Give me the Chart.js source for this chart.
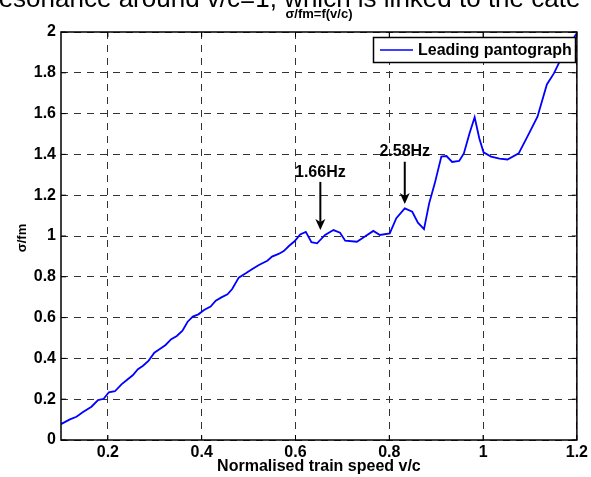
<!DOCTYPE html>
<html>
<head>
<meta charset="utf-8">
<script src="https://cdn.jsdelivr.net/npm/chart.js@4.4.1/dist/chart.umd.min.js"></script>
<style>
body { margin: 0; background: #fff; }
#wrap { width: 591px; height: 477px; }
</style>
</head>
<body>
<div id="wrap"><canvas id="grafico" width="591" height="477"></canvas></div>
<script>
// valores (velocidade normalizada v/c e razão sigma/fm)
const speed = [0.100, 0.119, 0.133, 0.147, 0.165, 0.179, 0.191, 0.202, 0.215, 0.229,
  0.243, 0.253, 0.264, 0.275, 0.287, 0.299, 0.310, 0.323, 0.335, 0.347,
  0.359, 0.370, 0.381, 0.393, 0.405, 0.419, 0.430, 0.442, 0.455, 0.465,
  0.479, 0.494, 0.508, 0.522, 0.540, 0.550, 0.564, 0.575, 0.586, 0.598,
  0.610, 0.622, 0.634, 0.646, 0.663, 0.681, 0.695, 0.706, 0.731, 0.748,
  0.766, 0.780, 0.801, 0.815, 0.833, 0.849, 0.861, 0.874, 0.885, 0.897,
  0.911, 0.922, 0.934, 0.949, 0.959, 0.971, 0.982, 0.992, 1.001, 1.017,
  1.035, 1.052, 1.076, 1.098, 1.116, 1.136, 1.151, 1.165, 1.194, 1.200];
const ratio = [0.078, 0.101, 0.114, 0.137, 0.163, 0.196, 0.202, 0.234, 0.239, 0.273,
  0.299, 0.317, 0.347, 0.364, 0.389, 0.428, 0.445, 0.466, 0.494, 0.510,
  0.536, 0.580, 0.605, 0.616, 0.637, 0.654, 0.683, 0.699, 0.714, 0.740,
  0.796, 0.817, 0.838, 0.858, 0.879, 0.899, 0.912, 0.926, 0.951, 0.974,
  1.008, 1.020, 0.970, 0.964, 1.005, 1.029, 1.016, 0.977, 0.972, 0.997,
  1.025, 1.005, 1.013, 1.087, 1.135, 1.119, 1.065, 1.034, 1.160, 1.258,
  1.389, 1.392, 1.363, 1.368, 1.405, 1.503, 1.582, 1.478, 1.410, 1.389,
  1.379, 1.375, 1.405, 1.503, 1.585, 1.743, 1.797, 1.863, 1.973, 1.995];

const xTicks = [0.2, 0.4, 0.6, 0.8, 1, 1.2];
const xTickLabels = ['0.2', '0.4', '0.6', '0.8', '1', '1.2'];
const yTicks = [0, 0.2, 0.4, 0.6, 0.8, 1, 1.2, 1.4, 1.6, 1.8, 2];
const yTickLabels = ['0', '0.2', '0.4', '0.6', '0.8', '1', '1.2', '1.4', '1.6', '1.8', '2'];

// setas com as frequências
const peakLabels = ['1.66Hz', '2.58Hz'];
const peakX = [0.653, 0.833];
const peakTextY = [1.31, 1.413];
const peakArrowTop = [1.265, 1.364];
const peakArrowTip = [1.03, 1.157];

const seriesName = 'Leading pantograph';
const chartTitle = 'σ/fm=f(v/c)';
const xTitle = 'Normalised train speed v/c';
const yTitle = 'σ/fm';
const pageText = 'resonance around v/c=1, which is linked to the cate';

const FONT = "'Liberation Sans', Arial, sans-serif";

const extras = {
    id: 'extras',
    afterDatasetsDraw(chart) {
        const c = chart.ctx;
        const a = chart.chartArea;
        const xs = chart.scales.x;
        const ys = chart.scales.y;
        c.save();

        // caixa dos eixos
        c.strokeStyle = '#000';
        c.lineWidth = 1.5;
        c.setLineDash([]);
        c.strokeRect(a.left, a.top, a.right - a.left, a.bottom - a.top);

        // ticks para dentro
        c.lineWidth = 1;
        c.beginPath();
        xTicks.forEach(v => {
            const px = xs.getPixelForValue(v);
            c.moveTo(px, a.bottom); c.lineTo(px, a.bottom - 5);
            c.moveTo(px, a.top); c.lineTo(px, a.top + 5);
        });
        yTicks.forEach(v => {
            const py = ys.getPixelForValue(v);
            c.moveTo(a.left, py); c.lineTo(a.left + 5, py);
            c.moveTo(a.right, py); c.lineTo(a.right - 5, py);
        });
        c.stroke();

        // anotações
        c.fillStyle = '#000';
        c.strokeStyle = '#000';
        c.font = 'bold 16px ' + FONT;
        c.textAlign = 'center';
        c.textBaseline = 'middle';
        for (let i = 0; i < peakLabels.length; i++) {
            const px = xs.getPixelForValue(peakX[i]);
            c.fillText(peakLabels[i], px, ys.getPixelForValue(peakTextY[i]));
            const y0 = ys.getPixelForValue(peakArrowTop[i]);
            const y1 = ys.getPixelForValue(peakArrowTip[i]);
            c.lineWidth = 2;
            c.beginPath();
            c.moveTo(px, y0); c.lineTo(px, y1 - 8);
            c.stroke();
            c.beginPath();
            c.moveTo(px, y1);
            c.lineTo(px - 5, y1 - 11);
            c.lineTo(px, y1 - 8);
            c.lineTo(px + 5, y1 - 11);
            c.closePath();
            c.fill();
        }

        // legenda
        const lx = 373, ly = 37, lw = 202, lh = 25;
        c.fillStyle = '#fff';
        c.fillRect(lx, ly, lw, lh);
        c.strokeStyle = '#000';
        c.lineWidth = 1.5;
        c.strokeRect(lx + 0.5, ly + 0.5, lw, lh);
        c.strokeStyle = '#0000ff';
        c.lineWidth = 1.5;
        c.beginPath();
        c.moveTo(lx + 7, ly + lh / 2 + 0.5); c.lineTo(lx + 40, ly + lh / 2 + 0.5);
        c.stroke();
        c.fillStyle = '#000';
        c.textAlign = 'left';
        c.fillText(seriesName, lx + 45, ly + lh / 2 + 1);

        // títulos
        c.textAlign = 'center';
        c.font = 'bold 16px ' + FONT;
        c.fillText(xTitle, (a.left + a.right) / 2, 467);
        c.font = 'bold 13px ' + FONT;
        c.fillText(chartTitle, (a.left + a.right) / 2, 14);
        c.save();
        c.translate(22, 238);
        c.rotate(-Math.PI / 2);
        c.fillText(yTitle, 0, 0);
        c.restore();

        // texto da página cortado no topo
        c.font = '26px ' + FONT;
        c.textAlign = 'left';
        c.textBaseline = 'alphabetic';
        c.fillText(pageText, -10, 7);

        c.restore();
    }
};

const ctx = document.getElementById('grafico').getContext('2d');
const tickFont = { family: FONT, size: 16, weight: 'bold' };

const grafico = new Chart(ctx, {
    type: 'line',
    data: {
        datasets: [{
            label: seriesName,
            data: speed.map((v, i) => ({ x: v, y: ratio[i] })),
            borderColor: '#0000ff',
            borderWidth: 1.8,
            pointRadius: 0,
            tension: 0,
            fill: false
        }]
    },
    options: {
        responsive: false,
        animation: false,
        devicePixelRatio: 1,
        layout: { padding: { top: 32, right: 11, left: 0, bottom: 0 } },
        plugins: {
            legend: { display: false },
            title: { display: false },
            tooltip: { enabled: false }
        },
        scales: {
            x: {
                type: 'linear',
                min: 0.1,
                max: 1.2,
                afterBuildTicks: s => { s.ticks = xTicks.map(v => ({ value: v })); },
                afterFit: s => { s.height = 37; },
                ticks: {
                    autoSkip: false,
                    maxRotation: 0,
                    padding: 3,
                    color: '#000',
                    font: tickFont,
                    callback: (v, i) => xTickLabels[i]
                },
                grid: { color: '#333', lineWidth: 1, drawTicks: false },
                border: { display: false, dash: [7, 6] }
            },
            y: {
                min: 0,
                max: 2,
                afterBuildTicks: s => { s.ticks = yTicks.map(v => ({ value: v })); },
                afterFit: s => { s.width = 61; },
                ticks: {
                    autoSkip: false,
                    padding: 5,
                    color: '#000',
                    font: tickFont,
                    callback: (v, i) => yTickLabels[i]
                },
                grid: { color: '#333', lineWidth: 1, drawTicks: false },
                border: { display: false, dash: [7, 6] }
            }
        }
    },
    plugins: [extras]
});
</script>
</body>
</html>
